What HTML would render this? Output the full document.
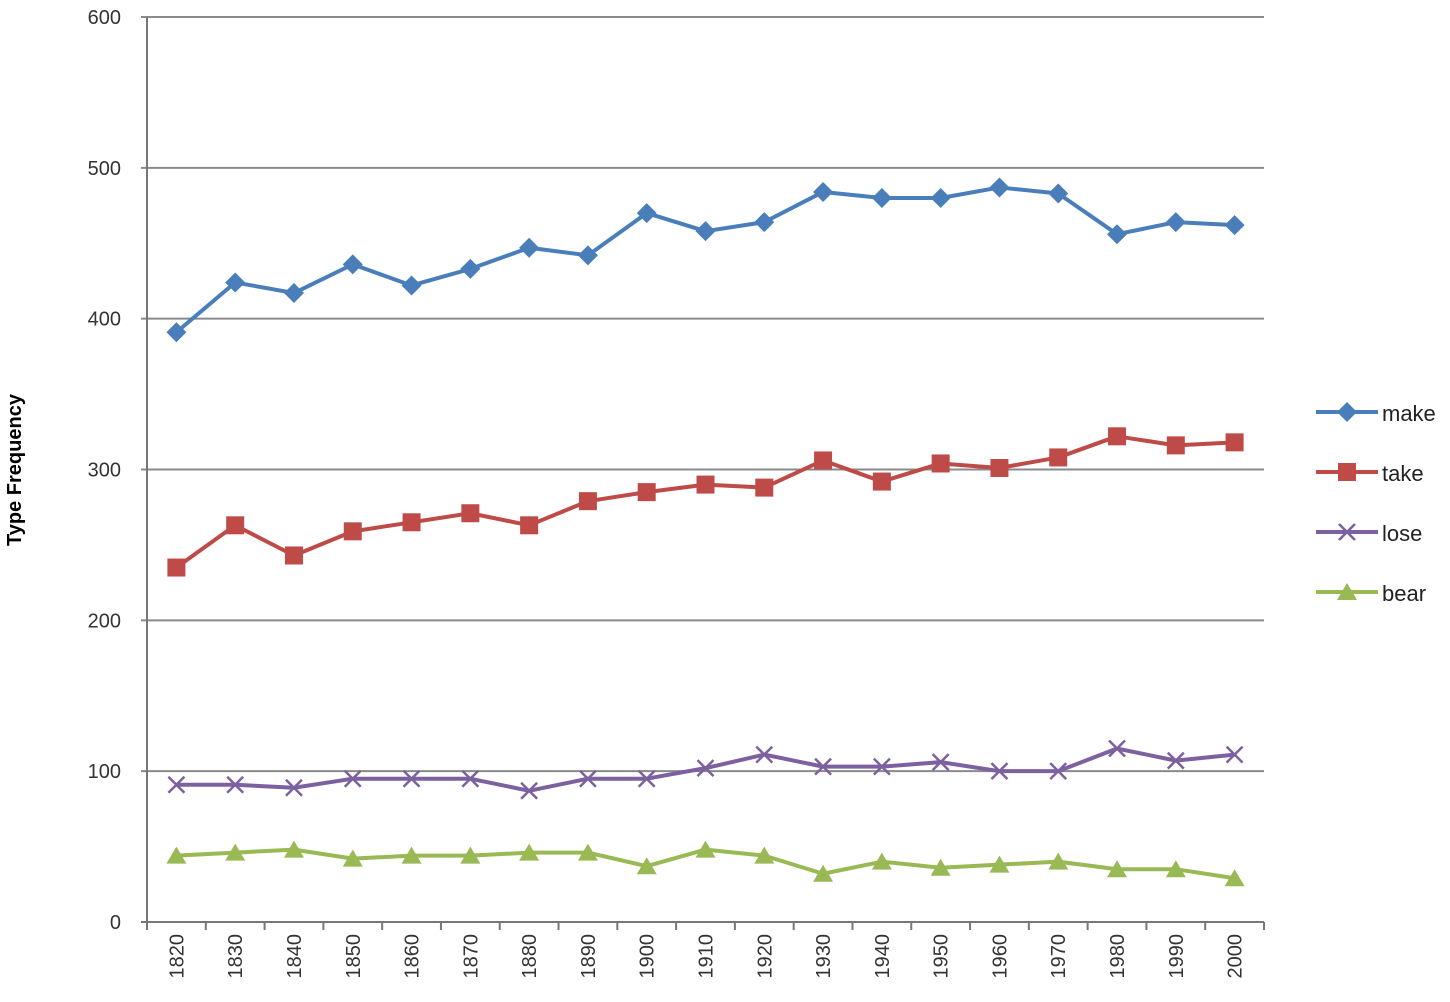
<!DOCTYPE html>
<html><head><meta charset="utf-8"><style>
body{margin:0;background:#fff}
svg{display:block;font-family:"Liberation Sans",sans-serif}
</style></head><body>
<svg id="chart" width="1450" height="1002" viewBox="0 0 1450 1002" xmlns="http://www.w3.org/2000/svg"></svg>
<script>
const categories=["1820","1830","1840","1850","1860","1870","1880","1890","1900","1910","1920","1930","1940","1950","1960","1970","1980","1990","2000"];
const makeVals=[391,424,417,436,422,433,447,442,470,458,464,484,480,480,487,483,456,464,462];
const takeVals=[235,263,243,259,265,271,263,279,285,290,288,306,292,304,301,308,322,316,318];
const loseVals=[91,91,89,95,95,95,87,95,95,102,111,103,103,106,100,100,115,107,111];
const bearVals=[44,46,48,42,44,44,46,46,37,48,44,32,40,36,38,40,35,35,29];
const yTicks=[0,100,200,300,400,500,600];
const seriesNames=["make","take","lose","bear"];
const seriesColors=["#4a7ebb","#be4b48","#7d60a0","#98b954"];
const seriesMarkers=["diamond","square","x","triangle"];
const seriesData=[makeVals,takeVals,loseVals,bearVals];

const svg=document.getElementById('chart');
const NS="http://www.w3.org/2000/svg";
const L=147,R=1264,T=17,B=922,yMax=600;
const band=(R-L)/categories.length;
const xs=i=>L+band*(i+0.5);
const ys=v=>B-(v/yMax)*(B-T);
function mk(tag,attrs,parent){const e=document.createElementNS(NS,tag);for(const k in attrs)e.setAttribute(k,attrs[k]);(parent||svg).appendChild(e);return e;}

// gridlines + y labels
yTicks.forEach(v=>{
  const y=ys(v);
  const g=mk('line',{x1:L-6,x2:R,y1:y,y2:y,stroke:v===0?'#777':'#8a8a8a','stroke-width':2});
  
  
  const t=mk('text',{x:L-26,y:y+7,'text-anchor':'end','font-size':20,fill:'#333'});
  t.textContent=v;
  
  
});
const ya=mk('line',{x1:L,x2:L,y1:T,y2:B,stroke:'#777','stroke-width':2});


// x ticks and labels
for(let i=0;i<=categories.length;i++){
  const x=L+band*i;
  const tk=mk('line',{x1:x,x2:x,y1:B,y2:B+8,stroke:'#777','stroke-width':2});
  
  
}
categories.forEach((c,i)=>{
  const x=xs(i);
  const t=mk('text',{transform:`translate(${x+7},${934}) rotate(-90)`,'text-anchor':'end','font-size':20,fill:'#333'});
  t.textContent=c;
  
  
});
const yt=mk('text',{transform:'translate(21,470) rotate(-90)','text-anchor':'middle','font-size':20,'font-weight':'bold',fill:'#000'});
yt.textContent='Type Frequency';



function marker(type,x,y,color,parent){
  let e;
  if(type==='diamond') e=mk('polygon',{points:`${x},${y-10} ${x+10},${y} ${x},${y+10} ${x-10},${y}`,fill:color},parent);
  else if(type==='square') e=mk('rect',{x:x-9,y:y-9,width:18,height:18,fill:color},parent);
  else if(type==='triangle') e=mk('polygon',{points:`${x},${y-9} ${x+10},${y+8} ${x-10},${y+8}`,fill:color},parent);
  else e=mk('path',{d:`M${x-8},${y-8}L${x+8},${y+8}M${x+8},${y-8}L${x-8},${y+8}`,stroke:color,'stroke-width':2.5,fill:'none'},parent);
  return e;
}

seriesData.forEach((data,s)=>{
  const g=mk('g',{});
  
  
  const pl=mk('polyline',{points:data.map((v,i)=>xs(i)+','+ys(v)).join(' '),fill:'none',stroke:seriesColors[s],'stroke-width':4,'stroke-linejoin':'round'},g);
  
  
  data.forEach((v,i)=>{
    const m=marker(seriesMarkers[s],xs(i),ys(v),seriesColors[s],g);
    
    
  });
  // legend
  const ly=412+s*60;
  const lg=mk('g',{});
  
  
  mk('line',{x1:1316,x2:1378,y1:ly,y2:ly,stroke:seriesColors[s],'stroke-width':4},lg);
  marker(seriesMarkers[s],1347,ly,seriesColors[s],lg);
  const lt=mk('text',{x:1382,y:ly+9,'font-size':22,fill:'#222'},lg);
  lt.textContent=seriesNames[s];
});
</script>
</body></html>
